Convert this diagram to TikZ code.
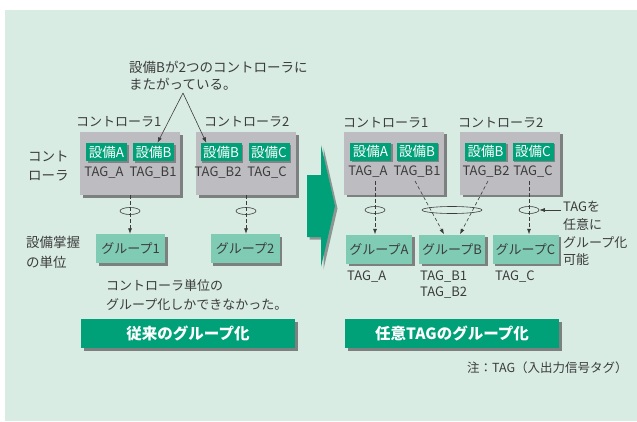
\documentclass[tikz,border=0pt]{standalone}
\usepackage{fontspec}
\setmainfont{Noto Sans CJK JP}
\usetikzlibrary{arrows.meta,calc,shapes.geometric}
\definecolor{bgc}{HTML}{D8ECE3}
\definecolor{ctrlc}{HTML}{BCBCC1}
\definecolor{grn}{HTML}{00A079}
\definecolor{lgrn}{HTML}{80CBB4}
\definecolor{txt}{HTML}{3C3C3C}
\definecolor{shc}{HTML}{5E5E5E}
\begin{document}
\begin{tikzpicture}[x=1pt,y=-1pt,
  shad/.style={preaction={fill=shc,opacity=0.75,transform canvas={xshift=2.5pt,yshift=-2.5pt}}},
  shads/.style={preaction={fill=shc,opacity=0.6,transform canvas={xshift=1.5pt,yshift=-1.5pt}}},
  ctrlbox/.style={shad,fill=ctrlc,minimum width=100pt,minimum height=63pt,inner sep=0pt},
  equip/.style={shads,fill=grn,text=white,minimum width=41pt,minimum height=18pt,inner sep=0pt,font=\fontsize{13.5}{15}\selectfont},
  grp/.style={shad,fill=lgrn,text=txt,minimum width=69pt,minimum height=29pt,inner sep=0pt,font=\fontsize{13}{15}\selectfont},
  titlebox/.style={shad,fill=grn,text=white,minimum width=214pt,minimum height=29pt,inner sep=0pt,font=\bfseries\fontsize{15.5}{18}\selectfont},
  lbl/.style={text=txt,inner sep=0pt,font=\fontsize{13}{15}\selectfont},
  ring/.style={ellipse,draw=txt,line width=0.6pt,inner sep=0pt,minimum height=7pt},
  dsh/.style={draw=txt,line width=0.6pt,dash pattern=on 3.5pt off 2.5pt,-{Latex[length=5.5pt,width=4pt]}},
  sol/.style={draw=txt,line width=0.6pt,-{Latex[length=5.5pt,width=4pt]}}
]
\useasboundingbox (0,0) rectangle (637,421);
\fill[bgc] (5,10) rectangle (637,421);

% big arrow
\fill[shc,opacity=0.6] (309.5,177.5) -- (323.5,177.5) -- (323.5,147.5) -- (337.5,208.5) -- (323.5,269.5) -- (323.5,239.5) -- (309.5,239.5) -- cycle;
\fill[grn] (307,175) -- (321,175) -- (321,145) -- (335,206) -- (321,267) -- (321,237) -- (307,237) -- cycle;

% ---------- left panel ----------
\node[lbl,anchor=west,align=left,font=\fontsize{13.5}{17}\selectfont] (anno) at (129,75.5) {設備Bが2つのコントローラに\\またがっている。};
\coordinate (ap) at (183,93);

\node[lbl,anchor=west] (c1lab) at (76,122) {コントローラ1};
\node[lbl,anchor=west] (c2lab) at (204,122) {コントローラ2};
\node[ctrlbox] (c1) at (130,163.5) {};
\node[ctrlbox] (c2) at (246,163.5) {};
\node[equip] (e1a) at (106.5,152) {設備A};
\node[equip] (e1b) at (153.5,152) {設備B};
\node[equip] (e2b) at (221,152) {設備B};
\node[equip] (e2c) at (269,152) {設備C};
\node[lbl] (t1a) at (104,173) {TAG\_A};
\node[lbl] (t1b) at (153,173) {TAG\_B1};
\node[lbl] (t2b) at (218,173) {TAG\_B2};
\node[lbl] (t2c) at (267,173) {TAG\_C};

\draw[sol] (ap) -- ($(e1b.north)+(4,0)$);
\draw[sol] (ap) -- ($(e2b.north west)+(6,0)$);

\node[lbl,anchor=west,align=left,font=\fontsize{13.5}{19}\selectfont] (ctl) at (28,166.5) {コント\\ローラ};
\node[lbl,anchor=west,align=left,font=\fontsize{13.5}{20}\selectfont] (unit) at (26,252) {設備掌握\\の単位};

\node[grp] (g1) at (130.5,248.5) {グループ1};
\node[grp] (g2) at (245,248.5) {グループ2};
\node[ring,minimum width=20pt] (r1) at (130,211) {};
\node[ring,minimum width=20pt] (r2) at (246,211) {};
\draw[dsh] (c1.south) -- (c1.south |- g1.north);
\draw[dsh] (c2.south) -- (c2.south |- g2.north);

\node[lbl,anchor=west,align=left,font=\fontsize{13}{19}\selectfont] (cmt) at (106,295.5) {コントローラ単位の\\グループ化しかできなかった。};
\node[titlebox] (tl) at (188,333.5) {従来のグループ化};

% ---------- right panel ----------
\node[lbl,anchor=west] (rc1lab) at (343,123) {コントローラ1};
\node[lbl,anchor=west] (rc2lab) at (458,123) {コントローラ2};
\node[ctrlbox] (rc1) at (394,163) {};
\node[ctrlbox] (rc2) at (510,163) {};
\node[equip] (re1a) at (370.5,151.5) {設備A};
\node[equip] (re1b) at (417,151.5) {設備B};
\node[equip] (re2b) at (485.5,151.5) {設備B};
\node[equip] (re2c) at (533,151.5) {設備C};
\node[lbl] (rt1a) at (368,172) {TAG\_A};
\node[lbl] (rt1b) at (417,172) {TAG\_B1};
\node[lbl] (rt2b) at (486,172) {TAG\_B2};
\node[lbl] (rt2c) at (533,172) {TAG\_C};

\node[grp,minimum width=66pt] (gA) at (379,249) {グループA};
\node[grp,minimum width=66pt] (gB) at (452,249) {グループB};
\node[grp,minimum width=66pt] (gC) at (525.5,249) {グループC};

\node[ring,minimum width=20pt] (ra) at (375,210) {};
\node[ring,minimum width=60pt] (rb) at (452,210) {};
\node[ring,minimum width=20pt] (rc) at (529,210) {};

\coordinate (sA) at (375,181);
\coordinate (sB1) at (415,181);
\coordinate (sB2) at (488,181);
\coordinate (sC) at (529,181);
\draw[dsh] (sA) -- (sA |- gA.north);
\draw[dsh] (sB1) -- ($(gB.north)+(-8,0)$);
\draw[dsh] (sB2) -- ($(gB.north)+(8,0)$);
\draw[dsh] (sC) -- (sC |- gC.north);

\node[lbl,anchor=west,align=left,font=\fontsize{13}{17.7}\selectfont] (any) at (563,233.5) {TAGを\\任意に\\グループ化\\可能};
\coordinate (tg) at (561,210);
\draw[sol] (tg) -- (rc.east);

\node[lbl,anchor=west] (ua) at (347,277) {TAG\_A};
\node[lbl,anchor=west,align=left,font=\fontsize{13}{16}\selectfont] (ub) at (420,285) {TAG\_B1\\TAG\_B2};
\node[lbl,anchor=west] (uc) at (495,277) {TAG\_C};

\node[titlebox] (tr) at (452,333.5) {任意TAGのグループ化};
\node[lbl,anchor=west,font=\fontsize{12.5}{14}\selectfont] (foot) at (467,368) {注：TAG（入出力信号タグ）};
\end{tikzpicture}
\end{document}
